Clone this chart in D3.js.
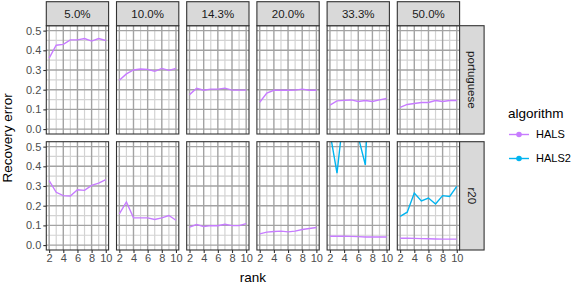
<!DOCTYPE html>
<html>
<head>
<meta charset="utf-8">
<script src="https://cdn.jsdelivr.net/npm/d3@7"></script>
<style>
  body { margin: 0; background: #fff; }
  text { font-family: "Liberation Sans", Arial, sans-serif; }
</style>
</head>
<body>
<svg id="chart" width="576" height="286"></svg>
<script>
const ranks = [2, 3, 4, 5, 6, 7, 8, 9, 10];
const proportions = ["5.0%", "10.0%", "14.3%", "20.0%", "33.3%", "50.0%"];
const datasets = ["portuguese", "r20"];
const algorithms = ["HALS", "HALS2"];
const yTicks = [0, 0.1, 0.2, 0.3, 0.4, 0.5];
const xTicks = [2, 4, 6, 8, 10];

// HALS, one array per proportion
const halsPortuguese = [
  [0.36, 0.426, 0.43, 0.453, 0.453, 0.46, 0.447, 0.46, 0.45],
  [0.248, 0.28, 0.3, 0.305, 0.303, 0.293, 0.308, 0.298, 0.308],
  [0.175, 0.207, 0.197, 0.203, 0.203, 0.208, 0.198, 0.198, 0.198],
  [0.136, 0.183, 0.197, 0.197, 0.197, 0.198, 0.203, 0.197, 0.197],
  [0.122, 0.143, 0.146, 0.148, 0.14, 0.145, 0.14, 0.148, 0.155],
  [0.11, 0.125, 0.13, 0.135, 0.135, 0.145, 0.14, 0.145, 0.145]
];
const halsR20 = [
  [0.327, 0.268, 0.251, 0.249, 0.281, 0.278, 0.303, 0.315, 0.332],
  [0.158, 0.219, 0.138, 0.138, 0.138, 0.13, 0.138, 0.15, 0.126],
  [0.091, 0.104, 0.094, 0.099, 0.098, 0.106, 0.099, 0.099, 0.109],
  [0.057, 0.066, 0.069, 0.071, 0.067, 0.071, 0.079, 0.084, 0.089],
  [0.045, 0.045, 0.045, 0.044, 0.043, 0.041, 0.041, 0.041, 0.041],
  [0.035, 0.035, 0.034, 0.033, 0.032, 0.031, 0.03, 0.03, 0.03]
];
// HALS2 only appears for r20 at 33.3% and 50.0%
const hals2R20_33 = [0.573, 0.365, 0.69, 0.9, 0.55, 0.407, 1.2, 1.0, 0.9];
const hals2R20_50 = [0.146, 0.167, 0.264, 0.224, 0.239, 0.209, 0.251, 0.247, 0.298];

const colors = { HALS: "#c77cff", HALS2: "#00b4f0" };

const svg = d3.select("#chart");

const layout = {
  left: 46.3, colStep: 70.2, pw: 62.3,
  rowTop: [25.7, 141.7], ph: 108.3,
  stripTop: 1.7, stripH: 24, stripW: 24.5
};

const x = d3.scaleLinear().domain([1.6, 10.4]).range([0, layout.pw]);
const y = d3.scaleLinear().domain([-0.025, 0.525]).range([layout.ph, 0]);

const line = d3.line().x((d, i) => x(ranks[i])).y(d => y(d));

function series(row, col) {
  const out = [];
  if (row == 0) out.push({ alg: "HALS", values: halsPortuguese[col] });
  else {
    out.push({ alg: "HALS", values: halsR20[col] });
    if (col == 4) out.push({ alg: "HALS2", values: hals2R20_33 });
    if (col == 5) out.push({ alg: "HALS2", values: hals2R20_50 });
  }
  return out;
}

const defs = svg.append("defs");
defs.append("clipPath").attr("id", "pclip")
  .append("rect").attr("width", layout.pw).attr("height", layout.ph);

datasets.forEach((ds, row) => {
  proportions.forEach((p, col) => {
    const g = svg.append("g")
      .attr("transform", "translate(" + (layout.left + col * layout.colStep) + "," + layout.rowTop[row] + ")");

    g.append("rect").attr("width", layout.pw).attr("height", layout.ph).attr("fill", "#fff");

    // minor grid
    const minorX = [3, 5, 7, 9];
    const minorY = [0.05, 0.15, 0.25, 0.35, 0.45];
    g.selectAll(".mx").data(minorX).enter().append("line")
      .attr("x1", d => x(d)).attr("x2", d => x(d)).attr("y1", 0).attr("y2", layout.ph)
      .attr("stroke", "#d3d3d3").attr("stroke-width", 1.2);
    g.selectAll(".my").data(minorY).enter().append("line")
      .attr("y1", d => y(d)).attr("y2", d => y(d)).attr("x1", 0).attr("x2", layout.pw)
      .attr("stroke", "#d3d3d3").attr("stroke-width", 1.2);
    // major grid
    g.selectAll(".gx").data(xTicks).enter().append("line")
      .attr("x1", d => x(d)).attr("x2", d => x(d)).attr("y1", 0).attr("y2", layout.ph)
      .attr("stroke", "#a3a3a3").attr("stroke-width", 1.4);
    g.selectAll(".gy").data(yTicks).enter().append("line")
      .attr("y1", d => y(d)).attr("y2", d => y(d)).attr("x1", 0).attr("x2", layout.pw)
      .attr("stroke", "#a3a3a3").attr("stroke-width", 1.4);

    g.append("g").attr("clip-path", "url(#pclip)")
      .selectAll("path").data(series(row, col)).enter().append("path")
      .attr("d", d => line(d.values))
      .attr("fill", "none")
      .attr("stroke", d => colors[d.alg])
      .attr("stroke-width", 1.4);

    g.append("rect").attr("width", layout.pw).attr("height", layout.ph)
      .attr("fill", "none").attr("stroke", "#333").attr("stroke-width", 1.1);

    // top strips
    if (row == 0) {
      const s = g.append("g").attr("transform", "translate(0," + (layout.stripTop - layout.rowTop[0]) + ")");
      s.append("rect").attr("width", layout.pw).attr("height", layout.stripH)
        .attr("fill", "#d9d9d9").attr("stroke", "#333").attr("stroke-width", 1.1);
      s.append("text").attr("x", layout.pw / 2).attr("y", layout.stripH / 2)
        .attr("dy", "0.35em").attr("text-anchor", "middle")
        .attr("font-size", 11.5).attr("fill", "#1a1a1a").text(p);
    }
    // right strips
    if (col == proportions.length - 1) {
      const s = g.append("g").attr("transform", "translate(" + layout.pw + ",0)");
      s.append("rect").attr("width", layout.stripW).attr("height", layout.ph)
        .attr("fill", "#d9d9d9").attr("stroke", "#333").attr("stroke-width", 1.1);
      s.append("text")
        .attr("transform", "translate(" + layout.stripW / 2 + "," + layout.ph / 2 + ") rotate(90)")
        .attr("dy", "0.35em").attr("text-anchor", "middle")
        .attr("font-size", 11.5).attr("fill", "#1a1a1a").text(ds);
    }
    // y axis
    if (col == 0) {
      const ax = g.append("g").call(d3.axisLeft(y).tickValues(yTicks).tickFormat(d3.format(".1f")).tickSize(3).tickPadding(2));
      ax.select(".domain").remove();
      ax.selectAll("line").attr("stroke", "#333").attr("stroke-width", 1.1);
      ax.selectAll("text").attr("font-size", 11).attr("fill", "#4d4d4d")
        .style("font-family", "Liberation Sans, Arial, sans-serif");
    }
    // x axis
    if (row == 1) {
      const ax = g.append("g").attr("transform", "translate(0," + layout.ph + ")")
        .call(d3.axisBottom(x).tickValues(xTicks).tickSize(3).tickPadding(1.5));
      ax.select(".domain").remove();
      ax.selectAll("line").attr("stroke", "#333").attr("stroke-width", 1.1);
      ax.selectAll("text").attr("font-size", 11).attr("fill", "#4d4d4d")
        .style("font-family", "Liberation Sans, Arial, sans-serif");
    }
  });
});

// axis titles
const plotRight = layout.left + 5 * layout.colStep + layout.pw;
svg.append("text")
  .attr("x", (layout.left + plotRight) / 2).attr("y", 282)
  .attr("text-anchor", "middle").attr("font-size", 13.5).attr("fill", "#000").text("rank");
svg.append("text")
  .attr("transform", "translate(12," + (layout.rowTop[0] + layout.rowTop[1] + layout.ph) / 2 + ") rotate(-90)")
  .attr("text-anchor", "middle").attr("font-size", 13.5).attr("fill", "#000").text("Recovery error");

// legend
const legend = svg.append("g").attr("transform", "translate(508,0)");
legend.append("text").attr("x", 0).attr("y", 113).attr("dy", "0.35em")
  .attr("font-size", 13.5).attr("fill", "#000").text("algorithm");
const item = legend.selectAll(".item").data(algorithms).enter().append("g")
  .attr("transform", (d, i) => "translate(0," + (134.5 + i * 24) + ")");
item.append("line").attr("x1", 1).attr("x2", 21).attr("stroke", d => colors[d]).attr("stroke-width", 1.4);
item.append("circle").attr("cx", 11).attr("r", 2.8).attr("fill", d => colors[d]);
item.append("text").attr("x", 28).attr("dy", "0.35em").attr("font-size", 11).attr("fill", "#000").text(d => d);
</script>
</body>
</html>
